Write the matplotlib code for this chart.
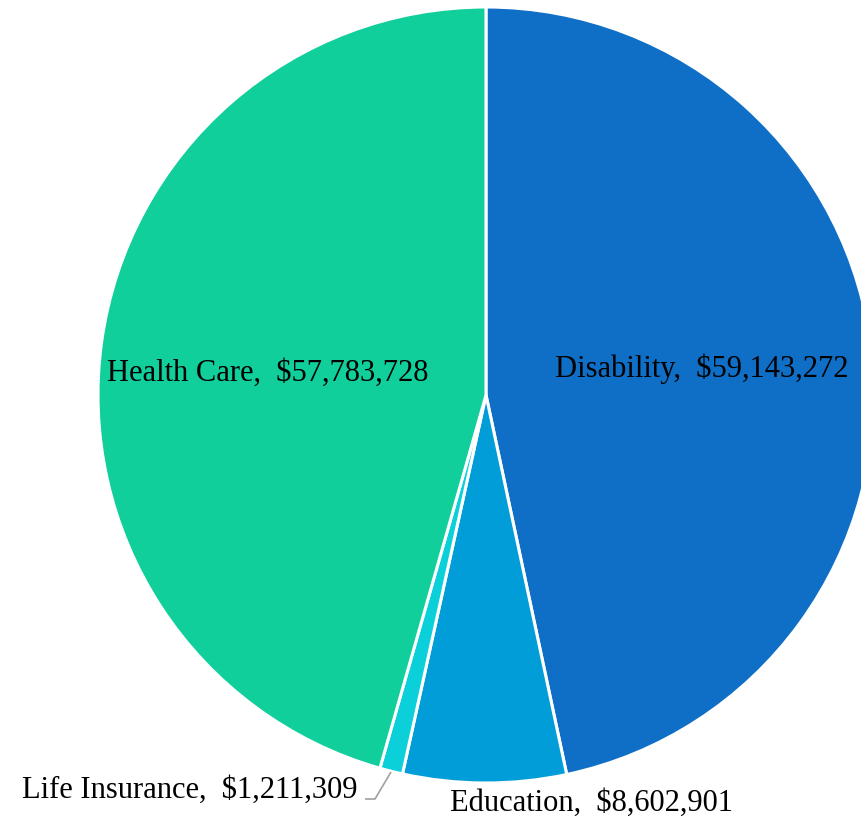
import matplotlib.pyplot as plt

labels = ["Disability", "Education", "Life Insurance", "Health Care"]
values = [59143272, 8602901, 1211309, 57783728]
colors = ["#0F6FC6", "#009DD9", "#0BD0D9", "#10CF9B"]

# label anchor points, in pixels of the 862x822 picture
label_px = [(555, 369), (592, 803), (358, 790), (268, 373)]
label_ha = ["left", "center", "right", "center"]

W, H = 862, 822
cx, cy, R = 486, 395, 388

fig = plt.figure(figsize=(W / 100, H / 100), dpi=100)
ax = fig.add_axes([0, 0, 1, 1])
ax.pie(values, colors=colors, startangle=90, counterclock=False, radius=R,
       center=(0, 0), wedgeprops=dict(edgecolor="white", linewidth=2.2))
ax.set_xlim(-cx, W - cx)
ax.set_ylim(cy - H, cy)
ax.set_aspect("equal")
ax.axis("off")

for lab, val, (px, py), ha in zip(labels, values, label_px, label_ha):
    ax.text(px - cx, cy - py, f"{lab},  ${val:,}", ha=ha, va="center",
            fontsize=22, family="Liberation Serif", color="black", clip_on=False)

# leader line for the small slice
ax.plot([365 - cx, 375 - cx, 391 - cx], [cy - 799, cy - 799, cy - 772],
        color="#A0A0A0", lw=1.2, solid_capstyle="butt")

fig.savefig("out.png", dpi=100, facecolor="white")
